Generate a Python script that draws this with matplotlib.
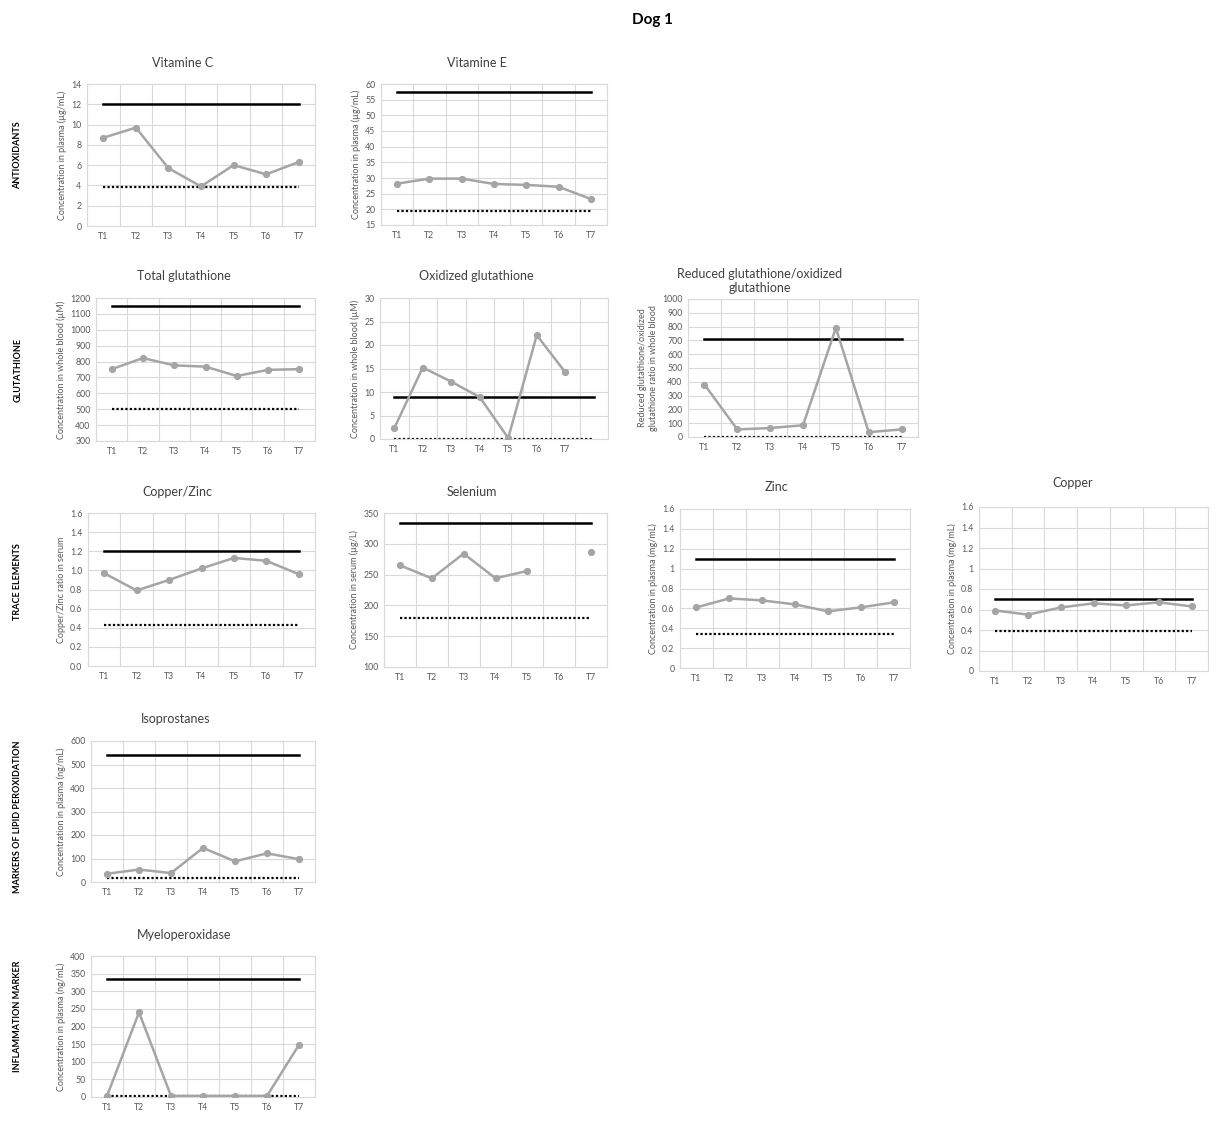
import numpy as np
import matplotlib
matplotlib.use("Agg")
import matplotlib.pyplot as plt
from matplotlib.ticker import FuncFormatter, MultipleLocator

plt.rcParams['font.family'] = ['Lato', 'DejaVu Sans']

W, H = 1217, 1122
times = ['T1', 'T2', 'T3', 'T4', 'T5', 'T6', 'T7']

# values (nan = no sample)
vitc = [8.7, 9.7, 5.7, 3.9, 6.0, 5.1, 6.3]
vite = [28.2, 29.8, 29.8, 28.1, 27.8, 27.2, 23.3]
totg = [752, 822, 776, 768, 709, 748, 752]
oxg = [2.3, 15.2, 12.2, 8.9, 0.2, 22.1, 14.2, np.nan]
ratio = [380, 55, 65, 85, 790, 35, 55]
cuzn = [0.97, 0.79, 0.90, 1.02, 1.13, 1.10, 0.96]
se = [265, 244, 284, 244, 256, np.nan, 286]
zn = [0.61, 0.70, 0.68, 0.64, 0.57, 0.61, 0.66]
cu = [0.59, 0.55, 0.62, 0.66, 0.64, 0.67, 0.63]
iso = [35, 53, 38, 145, 88, 122, 97]
mpo = [3, 240, 3, 3, 3, 3, 148]

# reference range (upper, lower)
vitc_ref = (12, 3.8)
vite_ref = (57.5, 19.5)
totg_ref = (1150, 500)
oxg_ref = (9, 0)
ratio_ref = (710, 0)
cuzn_ref = (1.2, 0.43)
se_ref = (334, 180)
zn_ref = (1.1, 0.34)
cu_ref = (0.70, 0.39)
iso_ref = (540, 18)
mpo_ref = (335, 2)


def rect(l, t, r, b):
    return [l / W, 1 - b / H, (r - l) / W, (b - t) / H]


fig = plt.figure(figsize=(W / 100, H / 100), dpi=100)

GRID = '#D9D9D9'
TXT = '#595959'


def panel(box, vals, ref, ylim, step, ylabel, title, tpos, fmt='%g', labels=times):
    ax = fig.add_axes(rect(*box))
    n = len(vals)
    x = np.arange(n)
    ax.plot(x, vals, color='#A5A5A5', lw=1.8, marker='o', ms=4.2, zorder=3)
    ax.plot([0, n - 1], [ref[0], ref[0]], color='black', lw=1.8, zorder=2)
    ax.plot([0, n - 1], [ref[1], ref[1]], color='black', lw=1.6,
            linestyle=(0, (1, 1)), zorder=2)
    ax.set_xlim(-0.5, n - 0.5)
    ax.set_ylim(*ylim)
    ax.yaxis.set_major_locator(MultipleLocator(step))
    ax.yaxis.set_major_formatter(FuncFormatter(lambda v, p: fmt % v))
    ax.set_xticks(x)
    ax.set_xticklabels((labels + [''] * n)[:n])
    ax.set_xticks(np.arange(n + 1) - 0.5, minor=True)
    ax.grid(True, which='minor', axis='x', color=GRID, lw=0.8)
    ax.grid(True, which='major', axis='y', color=GRID, lw=0.8)
    ax.set_axisbelow(True)
    for s in ax.spines.values():
        s.set_color(GRID)
        s.set_linewidth(0.8)
    ax.tick_params(which='both', length=0, labelsize=6.3, colors=TXT, pad=4)
    ax.set_ylabel(ylabel, fontsize=6.5, color=TXT, labelpad=3)
    fig.text(tpos[0] / W, 1 - tpos[1] / H, title, ha='center', va='center',
             fontsize=9, color='#404040')
    return ax


panel((87, 84, 315, 226), vitc, vitc_ref, (0, 14), 2,
      'Concentration in plasma (µg/mL)', 'Vitamine C', (183, 63))
panel((381, 84, 607, 225), vite, vite_ref, (15, 60), 5,
      'Concentration in plasma (µg/mL)', 'Vitamine E', (477, 63))
panel((96, 298, 315, 441), totg, totg_ref, (300, 1200), 100,
      'Concentration in whole blood (µM)', 'Total glutathione', (184, 276))
panel((380, 298, 608, 439), oxg, oxg_ref, (0, 30), 5,
      'Concentration in whole blood (µM)', 'Oxidized glutathione', (476, 276))
panel((688, 299, 918, 437), ratio, ratio_ref, (0, 1000), 100,
      'Reduced glutathione/oxidized\nglutathione ratio in whole blood',
      'Reduced glutathione/oxidized\nglutathione', (760, 281))
panel((88, 513, 315, 666), cuzn, cuzn_ref, (0, 1.6), 0.2,
      'Copper/Zinc ratio in serum', 'Copper/Zinc', (177, 492), fmt='%.1f')
panel((384, 513, 607, 667), se, se_ref, (100, 350), 50,
      'Concentration in serum (µg/L)', 'Selenium', (472, 492))
panel((680, 509, 910, 668), zn, zn_ref, (0, 1.6), 0.2,
      'Concentration in plasma (mg/mL)', 'Zinc', (776, 487))
panel((979, 507, 1208, 671), cu, cu_ref, (0, 1.6), 0.2,
      'Concentration in plasma (mg/mL)', 'Copper', (1073, 483))
panel((91, 741, 315, 882), iso, iso_ref, (0, 600), 100,
      'Concentration in plasma (ng/mL)', 'Isoprostanes', (176, 719))
panel((91, 956, 315, 1097), mpo, mpo_ref, (0, 400), 50,
      'Concentration in plasma (ng/mL)', 'Myeloperoxidase', (184, 935))

# group labels on the left
groups = ['ANTIOXIDANTS', 'GLUTATHIONE', 'TRACE ELEMENTS',
          'MARKERS OF LIPID PEROXIDATION', 'INFLAMMATION MARKER']
group_y = [155, 370, 582, 817, 1016]
for g, gy in zip(groups, group_y):
    fig.text(18 / W, 1 - gy / H, g, rotation=90, ha='center', va='center',
             fontsize=6.5, fontweight='bold', color='black')

fig.text(652 / W, 1 - 20 / H, 'Dog 1', ha='center', va='center',
         fontsize=11, fontweight='bold')

fig.savefig('out.png', dpi=100, facecolor='white')
